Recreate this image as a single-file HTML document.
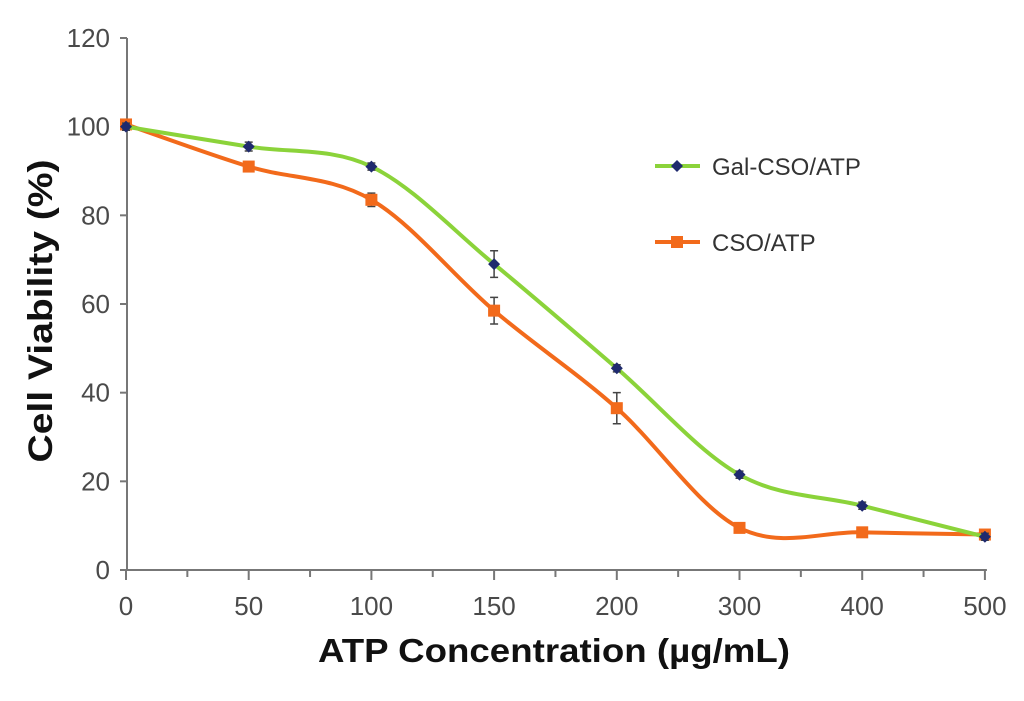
<!DOCTYPE html>
<html><head><meta charset="utf-8"><style>
html,body{margin:0;padding:0;background:#fff;}
svg{display:block;font-family:"Liberation Sans",Arial,sans-serif;}
</style></head><body>
<svg id="chart" width="1024" height="701"></svg>
<script>
const categories=["0","50","100","150","200","300","400","500"];
const galValues=[100,95.5,91,69,45.5,21.5,14.5,7.5];
const galErrors=[0.8,1,0.8,3,0.8,0.8,0.8,0.8];
const csoValues=[100.5,91,83.5,58.5,36.5,9.5,8.5,8];
const csoErrors=[0.8,1,1.5,3,3.5,0.8,0.8,0.8];
const yTicks=[0,20,40,60,80,100,120];
const NS="http://www.w3.org/2000/svg";
const svg=document.getElementById('chart');
const x0=126,dx=122.7,yBase=570,yScale=(570-38)/120;
const X=i=>x0+i*dx, Y=v=>yBase-v*yScale;
function mk(tag,attrs,parent){const e=document.createElementNS(NS,tag);for(const k in attrs)e.setAttribute(k,attrs[k]);(parent||svg).appendChild(e);return e;}
const axY=mk('line',{x1:x0+1,y1:Y(120),x2:x0+1,y2:yBase,stroke:'#777','stroke-width':2});


const axX=mk('line',{x1:x0,y1:yBase,x2:X(7)+2,y2:yBase,stroke:'#777','stroke-width':2});


yTicks.forEach(t=>{
  const l=mk('line',{x1:x0-6,y1:Y(t),x2:x0+1,y2:Y(t),stroke:'#777','stroke-width':2});
  
  
  const tx=mk('text',{x:x0-16,y:Y(t)+9,'text-anchor':'end','font-size':26,fill:'#4a4a4a'});
  tx.textContent=t;
  
  
});
categories.forEach((c,i)=>{
  const l=mk('line',{x1:X(i),y1:yBase,x2:X(i),y2:yBase+10,stroke:'#777','stroke-width':2});
  
  
  if(i<categories.length-1){
    const m=mk('line',{x1:X(i+0.5),y1:yBase,x2:X(i+0.5),y2:yBase+7,stroke:'#777','stroke-width':2});
    
    
  }
  const tx=mk('text',{x:X(i),y:yBase+45,'text-anchor':'middle','font-size':26,fill:'#4a4a4a'});
  tx.textContent=c;
  
  
});
function smooth(vals){
  const p=vals.map((v,i)=>[X(i),Y(v)]);
  let d=`M${p[0][0]},${p[0][1]}`;
  for(let i=0;i<p.length-1;i++){
    const a=p[Math.max(i-1,0)],b=p[i],c=p[i+1],e=p[Math.min(i+2,p.length-1)];
    const t=0.5/3;
    d+=` C${b[0]+(c[0]-a[0])*t},${b[1]+(c[1]-a[1])*t} ${c[0]-(e[0]-b[0])*t},${c[1]-(e[1]-b[1])*t} ${c[0]},${c[1]}`;
  }
  return d;
}
function series(vals,errs,color,marker,name){
  const g=mk('g',{});
  
  
  const p=mk('path',{d:smooth(vals),fill:'none',stroke:color,'stroke-width':4},g);
  
  
  vals.forEach((v,i)=>{
    const e=errs[i],cx=X(i);
    const eb=mk('path',{d:`M${cx-4},${Y(v+e)}H${cx+4}M${cx},${Y(v+e)}V${Y(v-e)}M${cx-4},${Y(v-e)}H${cx+4}`,stroke:'#444','stroke-width':1.5,fill:'none'},g);
    
    
    let m;
    if(marker==='diamond') m=mk('path',{d:`M${cx},${Y(v)-6}L${cx+6},${Y(v)}L${cx},${Y(v)+6}L${cx-6},${Y(v)}Z`,fill:'#1f2a6e'},g);
    else m=mk('rect',{x:cx-6,y:Y(v)-6,width:12,height:12,fill:color},g);
    
    
  });
}
series(csoValues,csoErrors,'#f26a1b','square','cso-atp-series');
series(galValues,galErrors,'#8bd33a','diamond','gal-cso-atp-series');
function legend(y,color,marker,label,name){
  const g=mk('g',{});
  
  
  mk('line',{x1:655,y1:y,x2:700,y2:y,stroke:color,'stroke-width':4},g);
  if(marker==='diamond') mk('path',{d:`M677,${y-6}L683,${y}L677,${y+6}L671,${y}Z`,fill:'#1f2a6e'},g);
  else mk('rect',{x:671,y:y-6,width:12,height:12,fill:color},g);
  const t=mk('text',{x:712,y:y+9,'font-size':24,fill:'#333'},g);
  t.textContent=label;
}
legend(166,'#8bd33a','diamond','Gal-CSO/ATP','legend-gal-cso-atp');
legend(242,'#f26a1b','square','CSO/ATP','legend-cso-atp');
const yt=mk('text',{x:0,y:0,transform:'translate(52,311) rotate(-90)','text-anchor':'middle','font-size':34,'font-weight':'bold',fill:'#111',textLength:303,lengthAdjust:'spacingAndGlyphs'});
yt.textContent='Cell Viability (%)';


const xt=mk('text',{x:554,y:662,'text-anchor':'middle','font-size':33,'font-weight':'bold',fill:'#111',textLength:472,lengthAdjust:'spacingAndGlyphs'});
xt.textContent='ATP Concentration (µg/mL)';


</script>
</body></html>
